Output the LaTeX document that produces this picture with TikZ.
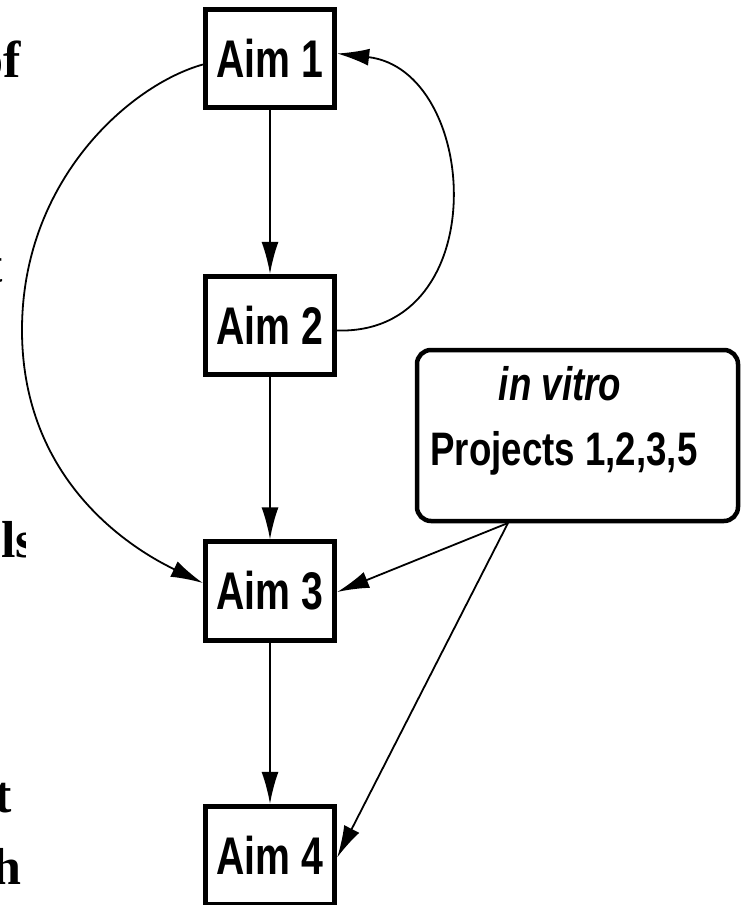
\documentclass[tikz,border=0pt]{standalone}
\usepackage{fontspec}
\usetikzlibrary{arrows.meta,calc}
\newfontfamily\aimfont[FakeStretch=0.74]{Liberation Sans}
\newfontfamily\ivfont[FakeStretch=0.78]{Liberation Sans}
\newfontfamily\fragfont{Liberation Serif}
\tikzset{
  aimbox/.style={draw, line width=4.8pt, minimum width=129.5pt, minimum height=98.5pt,
    inner sep=0pt, font=\aimfont\bfseries\fontsize{53}{60}\selectfont},
  ivbox/.style={draw, line width=4.5pt, rounded corners=14pt, minimum width=321pt,
    minimum height=171pt, inner sep=0pt},
  ivtext/.style={inner sep=0pt, anchor=base, font=\ivfont\bfseries\fontsize{47}{52}\selectfont},
  conn/.style={line width=1.8pt, -{Latex[length=32pt,width=17pt]}},
  frag/.style={inner sep=0pt, font=\fragfont\bfseries\fontsize{52}{60}\selectfont}
}
\begin{document}
\begin{tikzpicture}[x=1pt,y=-1pt]
\useasboundingbox (0,0) rectangle (742,905);
\clip (0,0) rectangle (742,905);
\fill[white] (0,0) rectangle (742,905);
% cut-off text of the left column
\begin{scope}
\clip (0,0) rectangle (25,905);
\node[frag, anchor=base east] (f1) at (21,77) {of};
\node[frag, anchor=base east] (f2) at (3,282) {t};
\node[frag, anchor=base west] (f3) at (1,557) {ls};
\node[frag, anchor=base east] (f4) at (12,812) {t};
\node[frag, anchor=base east] (f5) at (22,884) {h};
\end{scope}
% boxes
\node[aimbox] (a1) at (270,58.5) {Aim 1};
\node[aimbox] (a2) at (270,325.5) {Aim 2};
\node[aimbox] (a3) at (270,591) {Aim 3};
\node[aimbox] (a4) at (270,855.5) {Aim 4};
\node[ivbox] (iv) at (577.5,435.5) {};
\node[ivtext, font=\ivfont\bfseries\itshape\fontsize{47}{52}\selectfont] (ivt1) at (560,400) {in vitro};
\node[ivtext] (ivt2) at (564,465) {Projects 1,2,3,5};
\coordinate (src) at (508,523);
% connectors
\draw[conn] (a1.south) -- (a2.north);
\draw[conn] (a2.south) -- (a3.north);
\draw[conn] (a3.south) -- (a4.north);
\draw[conn] ($(a2.east)+(0,5)$) .. controls (495,335) and (480,70) .. ($(a1.east)+(0,-5)$);
\draw[conn] ($(a1.west)+(0,6)$) .. controls (130,85) and (22,180) .. (22,330)
   .. controls (22,480) and (130,548) .. ($(a3.west)+(0,-8)$);
\draw[conn] (src) -- ($(a3.east)+(0,1)$);
\draw[conn] (src) -- ($(a4.east)+(0,2)$);
\end{tikzpicture}
\end{document}
